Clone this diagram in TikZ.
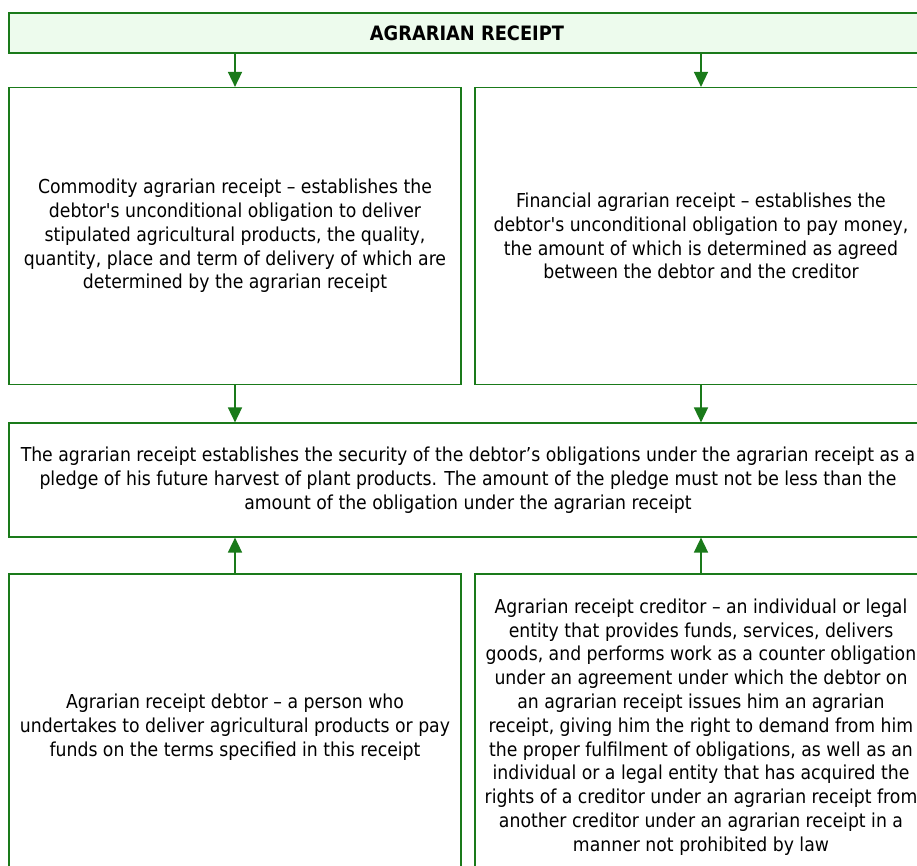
\documentclass[tikz,border=0pt]{standalone}
\usepackage{fontspec}
\setmainfont{DejaVu Sans Condensed}
\usetikzlibrary{arrows.meta}

\definecolor{boxgreen}{RGB}{26,122,26}
\definecolor{headfill}{RGB}{237,251,237}

\tikzset{
  box/.style={rectangle, draw=boxgreen, line width=1.2pt, align=center,
    inner sep=0pt, font=\fontsize{19.2}{23.8}\selectfont},
  head/.style={box, fill=headfill, font=\fontsize{19.8}{23.8}\selectfont\bfseries},
  >={Triangle[width=14pt,length=15pt]},
  link/.style={->, draw=boxgreen, line width=1.6pt}
}

\begin{document}
\begin{tikzpicture}[x=1pt, y=-1pt]
		\useasboundingbox (0,0) rectangle (917,865);
		\clip (0,0) rectangle (917,865);
		\node at (467,33) [head, minimum width=916pt, minimum height=40pt] (receipt) {AGRARIAN RECEIPT};
		\node at (235,236) [box, minimum width=452pt, minimum height=297pt] (commodity) {Commodity agrarian receipt -- establishes the\\ debtor\textquotesingle s unconditional obligation to deliver\\ stipulated agricultural products, the quality,\\ quantity, place and term of delivery of which are\\ determined by the agrarian receipt};
		\node at (701,236) [box, minimum width=452pt, minimum height=297pt] (financial) {Financial agrarian receipt -- establishes the\\ debtor\textquotesingle s unconditional obligation to pay money,\\ the amount of which is determined as agreed\\ between the debtor and the creditor};
		\node at (468,480) [box, minimum width=918pt, minimum height=114pt] (security) {The agrarian receipt establishes the security of the debtor’s obligations under the agrarian receipt as a\\ pledge of his future harvest of plant products. The amount of the pledge must not be less than the\\ amount of the obligation under the agrarian receipt};
		\node at (235,727) [box, minimum width=452pt, minimum height=306pt] (debtor) {Agrarian receipt debtor -- a person who\\ undertakes to deliver agricultural products or pay\\ funds on the terms specified in this receipt};
		\node at (701,727) [box, minimum width=452pt, minimum height=306pt] (creditor) {Agrarian receipt creditor -- an individual or legal\\ entity that provides funds, services, delivers\\ goods, and performs work as a counter obligation\\ under an agreement under which the debtor on\\ an agrarian receipt issues him an agrarian\\ receipt, giving him the right to demand from him\\ the proper fulfilment of obligations, as well as an\\ individual or a legal entity that has acquired the\\ rights of a creditor under an agrarian receipt from\\ another creditor under an agrarian receipt in a\\ manner not prohibited by law};
		% arrows
		\draw[link] (receipt.south -| commodity) -- (commodity);
		\draw[link] (receipt.south -| financial) -- (financial);
		\draw[link] (commodity) -- (commodity |- security.north);
		\draw[link] (financial) -- (financial |- security.north);
		\draw[link] (debtor) -- (debtor |- security.south);
		\draw[link] (creditor) -- (creditor |- security.south);
		\end{tikzpicture}
\end{document}
